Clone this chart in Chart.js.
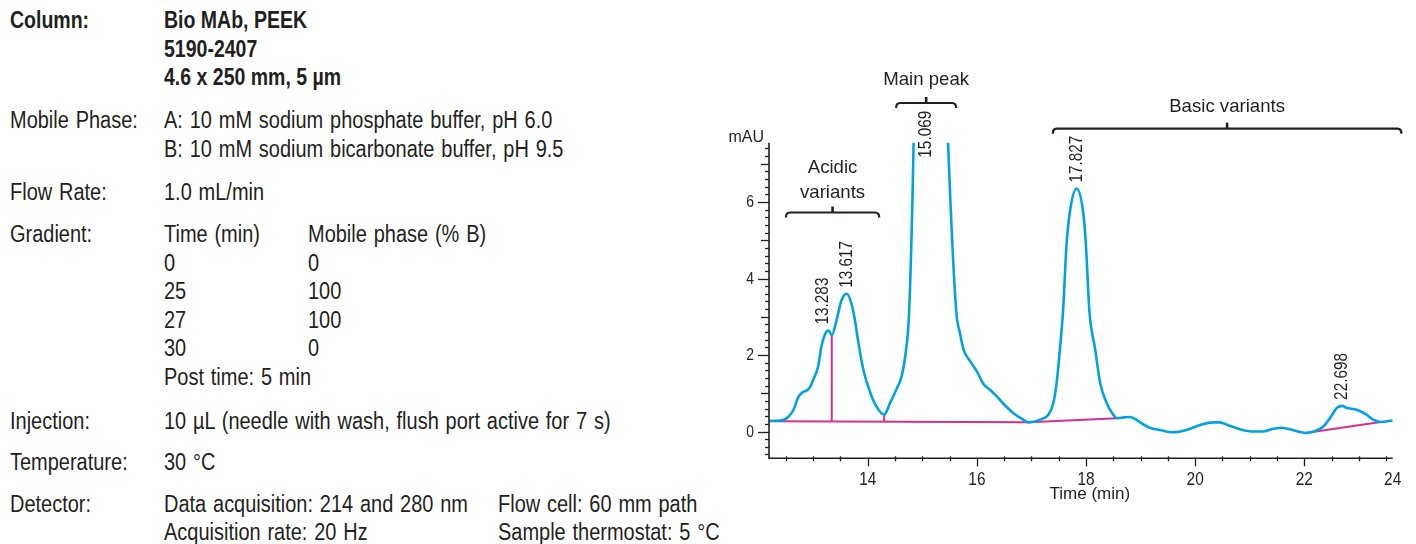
<!DOCTYPE html>
<html>
<head>
<meta charset="utf-8">
<script src="https://cdn.jsdelivr.net/npm/chart.js@4.4.1/dist/chart.umd.min.js"></script>
<style>
  html, body { margin: 0; padding: 0; background: #fff; }
  body { width: 1416px; height: 544px; position: relative; overflow: hidden; }
  .t { position: absolute; white-space: pre; color: #231f20;
       font-family: "Liberation Sans", Arial, sans-serif;
       font-size: 23.5px; line-height: 28px; word-spacing: 1.5px;
       transform: scaleX(0.85); transform-origin: 0 0; }
  .b { font-weight: bold; word-spacing: 0; transform: scaleX(0.83); }
  #chrom { position: absolute; left: 700px; top: 0; }
</style>
</head>
<body>
<!-- method conditions -->
<div class="t b" style="left:10px;top:6px">Column:</div>
<div class="t b" style="left:164px;top:6px">Bio MAb, PEEK</div>
<div class="t b" style="left:164px;top:34.7px">5190-2407</div>
<div class="t b" style="left:164px;top:63px">4.6 x 250 mm, 5 µm</div>

<div class="t" style="left:10px;top:105.5px">Mobile Phase:</div>
<div class="t" style="left:164px;top:105.5px">A: 10 mM sodium phosphate buffer, pH 6.0</div>
<div class="t" style="left:164px;top:134.5px">B: 10 mM sodium bicarbonate buffer, pH 9.5</div>

<div class="t" style="left:10px;top:178px">Flow Rate:</div>
<div class="t" style="left:164px;top:178px">1.0 mL/min</div>

<div class="t" style="left:10px;top:220px">Gradient:</div>
<div class="t" style="left:164px;top:220px">Time (min)</div>
<div class="t" style="left:308px;top:220px">Mobile phase (% B)</div>
<div class="t" style="left:164px;top:248.5px">0</div>
<div class="t" style="left:308px;top:248.5px">0</div>
<div class="t" style="left:164px;top:277px">25</div>
<div class="t" style="left:308px;top:277px">100</div>
<div class="t" style="left:164px;top:305.5px">27</div>
<div class="t" style="left:308px;top:305.5px">100</div>
<div class="t" style="left:164px;top:334px">30</div>
<div class="t" style="left:308px;top:334px">0</div>
<div class="t" style="left:164px;top:362.5px">Post time: 5 min</div>

<div class="t" style="left:10px;top:406.5px">Injection:</div>
<div class="t" style="left:164px;top:406.5px">10 µL (needle with wash, flush port active for 7 s)</div>

<div class="t" style="left:10px;top:448px">Temperature:</div>
<div class="t" style="left:164px;top:448px">30 °C</div>

<div class="t" style="left:10px;top:490px">Detector:</div>
<div class="t" style="left:164px;top:490px">Data acquisition: 214 and 280 nm</div>
<div class="t" style="left:498px;top:490px">Flow cell: 60 mm path</div>
<div class="t" style="left:164px;top:518px">Acquisition rate: 20 Hz</div>
<div class="t" style="left:498px;top:518px">Sample thermostat: 5 °C</div>

<canvas id="chrom" width="716" height="544"></canvas>

<script>
// ---- chromatogram trace (retention time in min, absorbance in mAU) ----
const timeMin = [
  12.19, 12.30, 12.40, 12.45, 12.54, 12.64, 12.73, 12.82, 12.88, 12.95,
  13.00, 13.09, 13.15, 13.22, 13.283, 13.34, 13.43, 13.52, 13.617, 13.70,
  13.76, 13.83, 13.92, 14.04, 14.16, 14.30, 14.41, 14.53, 14.62, 14.69,
  14.76, 14.84, 14.92, 15.00, 15.069, 15.15, 15.25, 15.35, 15.47, 15.62,
  15.69, 15.76, 15.88, 16.00, 16.12, 16.24, 16.37, 16.49, 16.67, 16.85,
  16.95, 17.16, 17.31, 17.40, 17.46, 17.52, 17.58, 17.64, 17.70, 17.827,
  17.95, 18.00, 18.06, 18.17, 18.26, 18.38, 18.48, 18.57, 18.70, 18.80,
  18.90, 18.99, 19.17, 19.35, 19.60, 19.84, 20.09, 20.33, 20.45, 20.63,
  20.82, 21.06, 21.24, 21.43, 21.58, 21.73, 21.92, 22.02, 22.17, 22.35,
  22.47, 22.60, 22.698, 22.77, 22.96, 23.14, 23.26, 23.40, 23.62
];
const absorbance = [
  0.28, 0.28, 0.29, 0.30, 0.38, 0.57, 0.91, 1.04, 1.07, 1.18,
  1.35, 1.70, 2.22, 2.55, 2.64, 2.52, 2.92, 3.44, 3.60, 3.35,
  2.95, 2.31, 1.61, 1.04, 0.65, 0.44, 0.75, 1.12, 1.44, 2.00,
  3.20, 7.60, 16.0, 30.0, 38.0, 33.0, 22.0, 13.0, 7.60, 3.17,
  2.57, 2.12, 1.83, 1.57, 1.24, 1.09, 0.91, 0.72, 0.48, 0.31,
  0.24, 0.31, 0.44, 0.74, 1.26, 2.13, 3.18, 4.83, 5.70, 6.35,
  5.70, 4.83, 3.18, 2.13, 1.26, 0.74, 0.48, 0.35, 0.37, 0.38,
  0.33, 0.24, 0.10, 0.04, -0.02, 0.04, 0.17, 0.24, 0.24, 0.15,
  0.06, 0.00, 0.00, 0.07, 0.10, 0.06, -0.01, -0.04, 0.00, 0.13,
  0.35, 0.62, 0.67, 0.62, 0.57, 0.44, 0.31, 0.25, 0.29
];

// ---- integration: baselines and drop lines (min, mAU); null breaks the path ----
const integTime = [12.19, 16.95, 18.57, null, 22.02, 23.40, null, 13.34, 13.34, null, 14.30, 14.30];
const integValue = [0.27, 0.24, 0.35, null, -0.04, 0.25, null, 0.27, 2.52, null, 0.26, 0.44];

// ---- labelled peaks (retention time, min) ----
const peakTimes = [13.283, 13.617, 15.069, 17.827, 22.698];
const peakLabels = ['13.283', '13.617', '15.069', '17.827', '22.698'];

// ---- variant groups (time span, min) ----
const groupNames = [['Acidic', 'variants'], ['Main peak'], ['Basic variants']];
const groupFrom = [12.50, 14.52, 17.39];
const groupTo = [14.21, 15.62, 23.78];

// ---- axes ----
const xRange = [12.19, 23.62];
const yRange = [-0.70, 7.55];
const xTickValues = [14, 16, 18, 20, 22];
const xEndLabel = '24';
const yTickValues = [0, 2, 4, 6];
const xTitle = 'Time (min)';
const yTitle = 'mAU';

// ---- styling ----
const INK = '#231f20';
const TRACE = '#00a3e0';
const INTEG = '#d6308f';
const SANS = '"Liberation Sans", Arial, sans-serif';
const SQUEEZE = 0.83;   // horizontal compression for the condensed labels
// bracket line / text baselines (canvas px) for each group
const groupLayout = [
  { lineY: 212.5, textY: [173.3, 198.3] },
  { lineY: 103.0, textY: [84.5] },
  { lineY: 128.7, textY: [111.7] }
];
const peakLabelShift = { '13.283': -6 };

const tracePoints = timeMin.map((t, i) => ({ x: t, y: absorbance[i] }));
const integPoints = integTime.map((t, i) => ({ x: t, y: integValue[i] }));

// condensed text: compress along the writing direction
function narrowText(ctx, text, x, y, size, align, baseline, angle) {
  ctx.save();
  ctx.translate(x, y);
  if (angle) ctx.rotate(angle);
  ctx.scale(SQUEEZE, 1);
  ctx.font = size + 'px ' + SANS;
  ctx.textAlign = align;
  ctx.textBaseline = baseline;
  ctx.fillText(text, 0, 0);
  ctx.restore();
}

const axesAndNotes = {
  id: 'axesAndNotes',
  afterDatasetsDraw(chart) {
    const { ctx, chartArea: a } = chart;
    const xs = chart.scales.x, ys = chart.scales.y;
    ctx.save();
    ctx.strokeStyle = INK;
    ctx.fillStyle = INK;
    ctx.lineCap = 'butt';

    // axis lines
    ctx.lineWidth = 1.6;
    ctx.beginPath();
    ctx.moveTo(a.left, a.top);
    ctx.lineTo(a.left, a.bottom);
    ctx.lineTo(a.right, a.bottom);
    ctx.stroke();

    // y ticks: every 0.2, longer at integers, longest at labelled values
    ctx.lineWidth = 1.3;
    for (let i = Math.ceil(yRange[0] * 5); i <= Math.floor(yRange[1] * 5); i++) {
      const v = i / 5;
      const py = Math.round(ys.getPixelForValue(v)) + 0.5;
      const len = (i % 10 === 0) ? 11 : (i % 5 === 0 ? 8 : 4);
      ctx.beginPath();
      ctx.moveTo(a.left - len, py);
      ctx.lineTo(a.left, py);
      ctx.stroke();
    }
    // x ticks: every 0.5 min
    for (let i = Math.ceil(xRange[0] * 2); i <= Math.floor(xRange[1] * 2); i++) {
      const px = Math.round(xs.getPixelForValue(i / 2)) + 0.5;
      const major = xTickValues.includes(i / 2);
      ctx.beginPath();
      ctx.moveTo(px, a.bottom - (major ? 0 : 2));
      ctx.lineTo(px, a.bottom + (major ? 8 : 3));
      ctx.stroke();
    }

    // tick labels
    yTickValues.forEach(v =>
      narrowText(ctx, String(v), a.left - 15, ys.getPixelForValue(v) + 0.5, 16.8, 'right', 'middle'));
    xTickValues.forEach(v =>
      narrowText(ctx, String(v), xs.getPixelForValue(v), a.bottom + 26.7, 18.6, 'center', 'alphabetic'));
    narrowText(ctx, xEndLabel, a.right, a.bottom + 26.7, 18.6, 'center', 'alphabetic');

    // axis titles
    ctx.font = '17px ' + SANS;
    ctx.textAlign = 'center';
    ctx.textBaseline = 'alphabetic';
    ctx.fillText(xTitle, (a.left + a.right) / 2 + 9, a.bottom + 40.5);
    ctx.textAlign = 'right';
    ctx.font = '16px ' + SANS;
    ctx.fillText(yTitle, a.left - 5, a.top - 0.5);

    // peak retention-time labels
    peakTimes.forEach((t, k) => {
      const v = absorbance[timeMin.indexOf(t)];
      const px = xs.getPixelForValue(t) + (peakLabelShift[peakLabels[k]] || 0);
      const py = v > yRange[1] ? a.top + 15 : ys.getPixelForValue(v) - 6;
      narrowText(ctx, peakLabels[k], px, py, 18.5, 'left', 'middle', -Math.PI / 2);
    });

    // group brackets and names
    groupNames.forEach((names, g) => {
      const x0 = xs.getPixelForValue(groupFrom[g]);
      const x1 = xs.getPixelForValue(groupTo[g]);
      const xc = (x0 + x1) / 2;
      const y = groupLayout[g].lineY;
      ctx.lineWidth = 2.2;
      ctx.beginPath();
      ctx.moveTo(x0, y + 5);
      ctx.quadraticCurveTo(x0, y, x0 + 4, y);
      ctx.lineTo(x1 - 4, y);
      ctx.quadraticCurveTo(x1, y, x1, y + 5);
      ctx.stroke();
      ctx.lineWidth = 2.6;
      ctx.beginPath();
      ctx.moveTo(xc, y);
      ctx.lineTo(xc, y - 6);
      ctx.stroke();
      ctx.font = '18.6px ' + SANS;
      ctx.textAlign = 'center';
      ctx.textBaseline = 'alphabetic';
      names.forEach((s, j) => ctx.fillText(s, xc, groupLayout[g].textY[j]));
    });
    ctx.restore();
  }
};

new Chart(document.getElementById('chrom'), {
  type: 'line',
  data: {
    datasets: [
      { data: tracePoints, borderColor: TRACE, borderWidth: 2.6, pointRadius: 0,
        cubicInterpolationMode: 'monotone', clip: 0, fill: false },
      { data: integPoints, borderColor: INTEG, borderWidth: 2, pointRadius: 0,
        tension: 0, spanGaps: false, clip: 0, fill: false }
    ]
  },
  options: {
    responsive: false,
    animation: false,
    events: [],
    layout: { padding: { left: 69, right: 23.3, top: 142.7, bottom: 85.7 } },
    plugins: { legend: { display: false }, tooltip: { enabled: false } },
    scales: {
      x: { type: 'linear', min: xRange[0], max: xRange[1], display: false },
      y: { type: 'linear', min: yRange[0], max: yRange[1], display: false }
    }
  },
  plugins: [axesAndNotes]
});
</script>
</body>
</html>
